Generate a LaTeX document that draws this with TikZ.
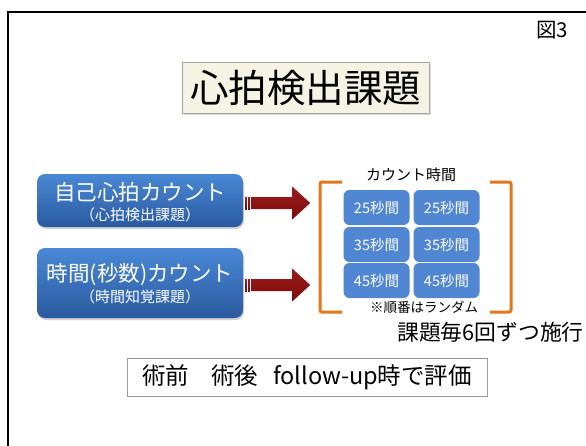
\documentclass[tikz,border=0pt]{standalone}
\usepackage{fontspec}
\setmainfont{Noto Sans CJK JP}
\usetikzlibrary{shadows,calc}
\definecolor{bluetop}{HTML}{4A88D5}
\definecolor{bluebot}{HTML}{2A5AA0}
\definecolor{smallblue}{HTML}{5187D2}
\definecolor{darkred}{HTML}{7C0A0A}
\definecolor{darkredtop}{HTML}{9A1E1E}
\definecolor{bracketorange}{HTML}{E3751A}
\definecolor{cream}{HTML}{F5F4E4}
\tikzset{
  bigbox/.style={rounded corners=8pt, shading=axis, top color=bluetop, bottom color=bluebot,
     draw=none, minimum width=206pt, inner sep=0pt,
     drop shadow={opacity=0.35, shadow xshift=1pt, shadow yshift=-2pt}},
  smallbox/.style={rounded corners=6pt, fill=smallblue, draw=none, minimum width=66pt,
     minimum height=35pt, inner sep=0pt, text=white, font=\fontsize{14.5}{16}\selectfont},
  maintext/.style={text=white, font=\fontsize{21.5}{23}\selectfont, inner sep=0pt},
  subtext/.style={text=white, font=\fontsize{15}{16}\selectfont, inner sep=0pt},
  fatarrow/.style={shading=axis, top color=darkredtop, bottom color=darkred, draw=none},
  bracketline/.style={draw=bracketorange, line width=3pt, rounded corners=2pt},
}
\begin{document}
\begin{tikzpicture}[x=1pt,y=-1pt]
\useasboundingbox (0,0) rectangle (586,445);
\clip (0,0) rectangle (586,445);
\fill[white] (0,0) rectangle (586,445);
% outer frame
\draw[line width=1.5pt, black] (8,12) rectangle (620,480);
% figure label
\node[inner sep=0pt, font=\fontsize{20.5}{22}\selectfont] (fig) at (552,30) {図3};
% title
\node[draw=gray!70, fill=cream, minimum width=247pt, minimum height=51pt, inner sep=0pt,
      drop shadow={opacity=0.3, shadow xshift=1.5pt, shadow yshift=-1.5pt},
      font=\fontsize{38.5}{40}\selectfont] (title) at (305.5,87.5) {心拍検出課題};
% left boxes
\node[bigbox, minimum height=53pt] (box1) at (140,200.5) {};
\node[maintext] (box1main) at (140,192) {自己心拍カウント};
\node[subtext] (box1sub) at (140,215) {（心拍検出課題）};
\node[bigbox, minimum height=70pt] (box2) at (140,283) {};
\node[maintext] (box2main) at (140,275) {時間(秒数)カウント};
\node[subtext] (box2sub) at (140,297) {（時間知覚課題）};
% arrows
\coordinate (a1) at ($(box1.east)+(2,2.5)$);
\coordinate (a2) at ($(box2.east)+(2,2)$);
\foreach \a in {a1,a2}{
  \path[fatarrow] ($(\a)+(0,-6)$) rectangle ($(\a)+(1.6,6)$);
  \path[fatarrow] ($(\a)+(3,-6)$) rectangle ($(\a)+(4.6,6)$);
  \path[fatarrow] ($(\a)+(6,-6)$) -- ($(\a)+(47,-6)$) -- ($(\a)+(47,-16.5)$) -- ($(\a)+(65,0)$)
     -- ($(\a)+(47,16.5)$) -- ($(\a)+(47,6)$) -- ($(\a)+(6,6)$) -- cycle;
}
% bracket
\draw[bracketline] (342,182) -- (320,182) -- (320,312) -- (342,312);
\draw[bracketline] (490,182) -- (511,182) -- (511,312) -- (490,312);
\node[inner sep=0pt, font=\fontsize{15}{16}\selectfont] (ctime) at (411,175) {カウント時間};
% small boxes
\node[smallbox] (s11) at (376.5,207.5) {25秒間};
\node[smallbox] (s12) at (446.5,207.5) {25秒間};
\node[smallbox] (s21) at (376.5,244.5) {35秒間};
\node[smallbox] (s22) at (446.5,244.5) {35秒間};
\node[smallbox] (s31) at (376.5,280.5) {45秒間};
\node[smallbox] (s32) at (446.5,280.5) {45秒間};
\node[inner sep=0pt, font=\fontsize{13.5}{15}\selectfont] (random) at (424,307) {※順番はランダム};
\node[inner sep=0pt, anchor=west, font=\fontsize{21.8}{23}\selectfont] (times) at (397,332) {課題毎6回ずつ施行};
% bottom box
\node[draw=gray!80, line width=0.8pt, minimum width=360pt, minimum height=38pt, inner sep=0pt,
      font=\fontsize{23.5}{25}\selectfont] (eval) at (307,377)
      {術前\hspace{22pt}術後\hspace{15pt}follow-up時で評価};
\end{tikzpicture}
\end{document}
